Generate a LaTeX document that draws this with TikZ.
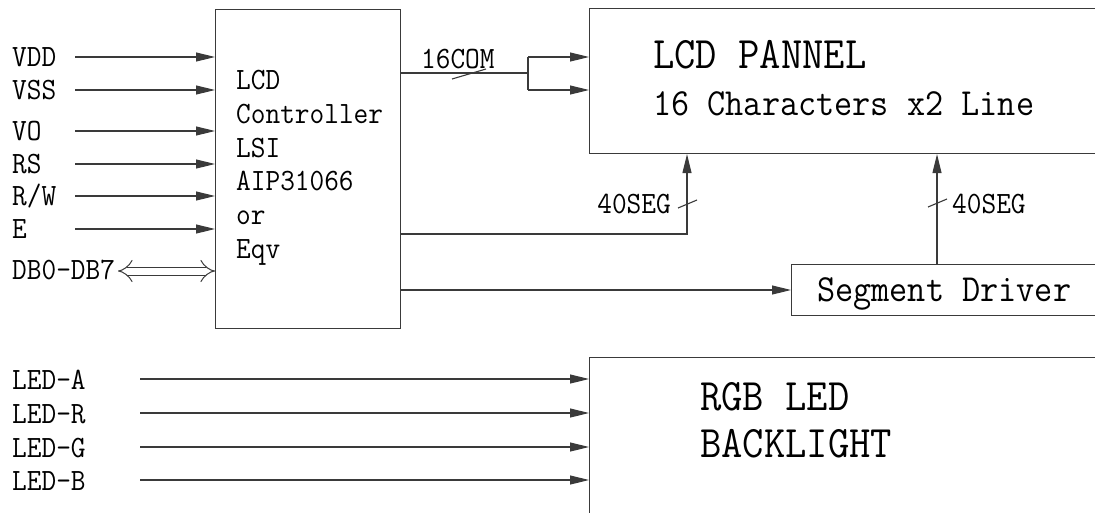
\documentclass[tikz,border=0pt]{standalone}
\usepackage{fontspec}
\usetikzlibrary{arrows.meta,positioning}
\newfontfamily\lcdfont[FakeStretch=0.92]{Latin Modern Mono}
\definecolor{linegray}{HTML}{3A3A3A}

\tikzset{
  blk/.style={draw=linegray, line width=1.1pt, anchor=north west, inner sep=0pt},
  line/.style={draw=linegray, line width=1.1pt},
  sig/.style={line, -{Triangle[length=19pt,width=9pt]}},
  bus/.style={draw=linegray, line width=1pt, double=white, double distance=7pt,
    {Implies[length=12pt,width=18pt]}-{Implies[length=12pt,width=18pt]}},
  lbl/.style={font=\lcdfont\fontsize{31}{34}\selectfont, inner sep=0pt, anchor=base west},
  lblM/.style={lbl, font=\lcdfont\fontsize{38.3}{42}\selectfont},
  lblL/.style={lbl, font=\lcdfont\fontsize{45}{48}\selectfont},
}

\begin{document}
\begin{tikzpicture}[x=1pt, y=-1pt]
  \useasboundingbox (0,0) rectangle (1095,512);
  \clip (0,0) rectangle (1095,512);

  % Blocks
  \node[blk, minimum width=185pt, minimum height=319pt] (ctrl) at (215,9) {};
  \node[blk, minimum width=520pt, minimum height=145pt] (panel) at (589,8) {};
  \node[blk, minimum width=320pt, minimum height=51pt] (segdrv) at (791,264) {};
  \node[blk, minimum width=520pt, minimum height=200pt] (backlight) at (589,357) {};

  % Controller text
  \foreach \t/\y [count=\i] in {LCD/89, Controller/123, LSI/157, AIP31066/190, or/224, Eqv/258}
    \node[lbl] (ctxt\i) at (236,\y) {\t};

  % Panel, driver and backlight text
  \node[lblL] (pname) at (653,68) {LCD PANNEL};
  \node[lblM] (pchars) at (653,115) {16 Characters x2 Line};
  \node[lblM] (dname) at (817,301) {Segment Driver};
  \node[lblL] (bname) at (700,410) {RGB LED};
  \node[lblL] (bname2) at (700,457) {BACKLIGHT};

  % Controller inputs
  \foreach \lab/\y [count=\i] in {VDD/57, VSS/90, VO/131, RS/164, {R/W}/196, E/229} {
    \node[lbl] (in\i) at (12,\y+9.5) {\lab};
    \coordinate (src\i) at (75,\y);
    \draw[sig] (src\i) -- (src\i -| ctrl.west);
  }
  \node[lbl] (dblbl) at (12,279.5) {DB0-DB7};
  \coordinate (dbsrc) at (118,271);
  \draw[bus] (dbsrc) -- (dbsrc -| ctrl.west);

  % 16COM to panel
  \coordinate (com) at (528,73);
  \coordinate (comA) at (528,57);
  \coordinate (comB) at (528,90);
  \draw[line] (com -| ctrl.east) -- (com);
  \draw[line] (comA) -- (comB);
  \draw[sig] (comA) -- (comA -| panel.west);
  \draw[sig] (comB) -- (comB -| panel.west);
  \draw[line] (452,79) -- (486,69);
  \node[lbl] (comlbl) at (421,68) {16COM};

  % 40SEG from controller
  \coordinate (segA) at (687,234);
  \draw[sig] (segA -| ctrl.east) -- (segA) -- (segA |- panel.south);
  \draw[line] (678,208) -- (697,200);
  \node[lbl, anchor=base east] (segAlbl) at (671,213) {40SEG};

  % Controller to segment driver
  \coordinate (drv) at (600,290);
  \draw[sig] (drv -| ctrl.east) -- (drv -| segdrv.west);

  % 40SEG from segment driver
  \coordinate (segB) at (937,234);
  \draw[sig] (segB |- segdrv.north) -- (segB |- panel.south);
  \draw[line] (928,207) -- (947,199);
  \node[lbl] (segBlbl) at (952,213) {40SEG};

  % Backlight inputs
  \foreach \lab/\y [count=\i] in {LED-A/379, LED-R/413, LED-G/447, LED-B/480} {
    \node[lbl] (led\i) at (12,\y+10) {\lab};
    \coordinate (lsrc\i) at (140,\y);
    \draw[sig] (lsrc\i) -- (lsrc\i -| backlight.west);
  }
\end{tikzpicture}
\end{document}
